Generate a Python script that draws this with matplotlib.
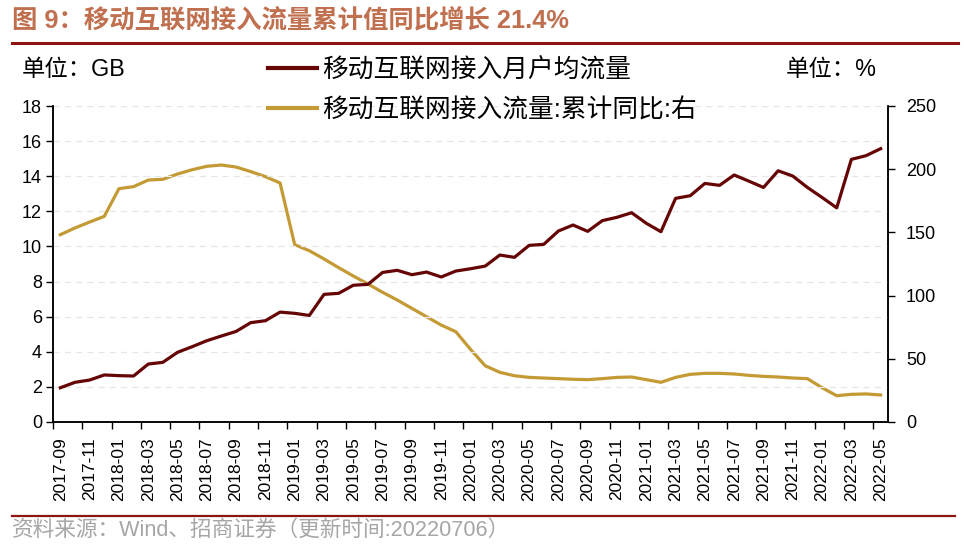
import matplotlib
matplotlib.use("Agg")
import matplotlib.pyplot as plt
from matplotlib.lines import Line2D
import numpy as np

plt.rcParams['font.family'] = ['Liberation Sans', 'Noto Sans CJK SC', 'DejaVu Sans']

# monthly, 2017-09 .. 2022-05
months = []
for y in range(2017, 2023):
    for m in range(1, 13):
        if (y == 2017 and m < 9) or (y == 2022 and m > 5):
            continue
        months.append("%d-%02d" % (y, m))

# 移动互联网接入月户均流量 (GB), left axis
dou = [1.95, 2.26, 2.39, 2.68, 2.64, 2.62, 3.30, 3.40, 3.97, 4.29,
       4.63, 4.90, 5.16, 5.66, 5.77, 6.26, 6.19, 6.07, 7.27, 7.33,
       7.79, 7.84, 8.52, 8.64, 8.39, 8.54, 8.26, 8.60, 8.73, 8.88,
       9.51, 9.38, 10.06, 10.12, 10.88, 11.22, 10.86, 11.47, 11.66, 11.92,
       11.32, 10.84, 12.74, 12.89, 13.59, 13.48, 14.07, 13.72, 13.36, 14.31,
       14.01, 13.36, 12.79, 12.20, 14.96, 15.17, 15.57]

# 移动互联网接入流量:累计同比 (%), right axis
yoy = [148.2, 153.5, 158.2, 162.7, 184.6, 186.2, 191.4, 192.0, 196.2, 199.6,
       202.3, 203.3, 201.7, 198.1, 194.1, 189.1, 140.3, 135.5, 129.0, 122.1,
       115.5, 109.2, 102.6, 96.5, 89.9, 83.3, 76.7, 71.4, 57.5, 44.5,
       39.3, 36.6, 35.3, 34.8, 34.3, 33.8, 33.5, 34.3, 35.3, 35.6,
       33.5, 31.4, 35.3, 37.7, 38.5, 38.5, 38.0, 36.9, 36.1, 35.6,
       34.8, 34.3, 27.1, 20.8, 21.9, 22.2, 21.4]

dark_red = '#650505'
gold = '#C49A35'
rule_red = '#8E1414'

fig = plt.figure(figsize=(9.72, 5.48), dpi=100)
ax = fig.add_axes([53/972, 1-422/548, (888-53)/972, (422-106)/548])
ax2 = ax.twinx()

x = np.arange(len(months))
ax.plot(x, dou, color=dark_red, lw=2.3, zorder=3)
ax2.plot(x, yoy, color=gold, lw=2.3, zorder=2)
ax.set_zorder(ax2.get_zorder() + 1)
ax.patch.set_visible(False)

ax.set_xlim(-0.5, len(months) - 0.5)
ax.set_ylim(0, 18)
ax.set_yticks(np.arange(0, 19, 2))
ax2.set_ylim(0, 250)
ax2.set_yticks(np.arange(0, 251, 50))

for yv in np.arange(2, 19, 2):
    ax.axhline(yv, color='#E6E6E6', lw=0.9, ls=(0, (5, 4)), zorder=0)

# ticks at category boundaries, labels at category centres
ax.set_xticks(np.arange(-0.5, len(months) - 1, 2))
ax.set_xticklabels([])
ax.set_xticks(x[::2], minor=True)
ax.set_xticklabels(months[::2], minor=True, rotation=90, fontsize=12.5)
ax.tick_params(axis='x', which='major', length=5, width=1, direction='out')
ax.tick_params(axis='x', which='minor', length=0, pad=11)
ax.tick_params(axis='y', length=5, width=1, direction='out', labelsize=13, pad=3)
ax2.tick_params(axis='y', length=5, width=1, direction='out', labelsize=13, pad=8)

for a in (ax, ax2):
    a.spines['top'].set_visible(False)
    for s in ('left', 'right', 'bottom'):
        a.spines[s].set_linewidth(1.1)

# title and rules
fig.text(12/972, 1-21/548, "图 9：移动互联网接入流量累计值同比增长 21.4%", fontsize=18.3,
         fontweight='bold', color='#C0704E', va='center', ha='left')
fig.add_artist(Line2D([12/972, 958/972], [1-43/548, 1-43/548], color=rule_red, lw=2.2))
fig.add_artist(Line2D([12/972, 955/972], [1-516/548, 1-516/548], color=rule_red, lw=1.6))
fig.text(12/972, 1-530/548, "资料来源：Wind、招商证券（更新时间:20220706）", fontsize=15.6,
         color='#A6A6A6', va='center', ha='left')

# unit labels
fig.text(22/972, 1-70/548, "单位：GB", fontsize=16.8, va='center', ha='left')
fig.text(786/972, 1-70/548, "单位：%", fontsize=16.8, va='center', ha='left')

# legend
h1 = Line2D([], [], color=dark_red, lw=3)
h2 = Line2D([], [], color=gold, lw=3)
fig.legend([h1, h2], ["移动互联网接入月户均流量", "移动互联网接入流量:累计同比:右"],
           loc='upper left', bbox_to_anchor=(268/972, 1-58/548), frameon=False,
           fontsize=18.5, handlelength=1.9, handletextpad=0.2, labelspacing=0.62,
           borderaxespad=0, borderpad=0)

fig.savefig("out.png", dpi=100)
